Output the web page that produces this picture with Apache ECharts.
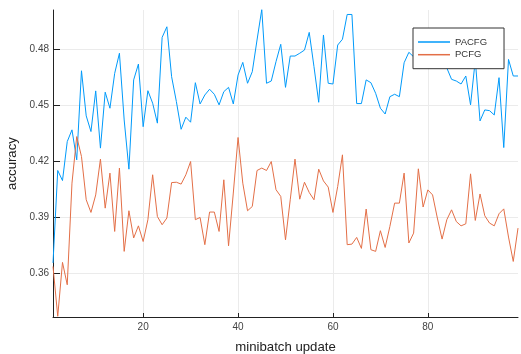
<!DOCTYPE html>
<html><head><meta charset="utf-8">
<script src="https://cdn.jsdelivr.net/npm/echarts@6/dist/echarts.min.js"></script>
<style>html,body{margin:0;padding:0;background:#fff}#c{width:521px;height:354px}</style>
</head><body><div id="c"></div>
<script>
const xValues = Array.from({length: 99}, (_, i) => i + 1);
const pacfg = [0.3654,0.415,0.4096,0.4305,0.4368,0.4207,0.4685,0.4443,0.4359,0.4577,
0.427,0.457,0.4484,0.4671,0.4779,0.4421,0.4157,0.4636,0.4721,0.4385,
0.4578,0.4511,0.4404,0.4864,0.4921,0.4653,0.452,0.4371,0.4436,0.4409,
0.4621,0.4507,0.4555,0.4586,0.4559,0.4502,0.4573,0.4596,0.4507,0.4662,
0.473,0.4618,0.468,0.485,0.5014,0.4618,0.463,0.4734,0.4827,0.4596,
0.4764,0.4764,0.4779,0.4796,0.4891,0.4707,0.4516,0.4877,0.4618,0.4614,
0.4823,0.4854,0.4987,0.4987,0.4509,0.4509,0.4636,0.4621,0.4564,0.4484,
0.4453,0.4546,0.4559,0.4546,0.4728,0.4784,0.476,0.481,0.474,0.478,
0.470,0.476,0.472,0.470,0.4639,0.463,0.4614,0.4657,0.4502,0.4743,
0.4416,0.4475,0.4471,0.4448,0.4648,0.4273,0.4746,0.4657,0.4657];
const pcfg = [0.3635,0.3368,0.3657,0.3537,0.4082,0.4332,0.4225,0.3993,0.3925,0.4019,
0.4211,0.3948,0.4136,0.3823,0.4163,0.3716,0.3934,0.3788,0.3853,0.3769,
0.3886,0.4127,0.3903,0.3859,0.3895,0.4085,0.4087,0.4077,0.4127,0.4198,
0.3886,0.3898,0.3752,0.3927,0.3927,0.3823,0.41,0.3746,0.4029,0.4327,
0.4082,0.3934,0.3957,0.415,0.4163,0.415,0.4198,0.4047,0.4011,0.3778,
0.3993,0.4211,0.3996,0.4087,0.4032,0.3993,0.4157,0.4094,0.4061,0.3925,
0.4064,0.4234,0.3752,0.3755,0.3791,0.3732,0.3943,0.3725,0.3716,0.3827,
0.3737,0.385,0.3975,0.3975,0.4136,0.3761,0.3814,0.4159,0.3954,0.4046,
0.4019,0.3895,0.3782,0.3886,0.3939,0.3876,0.3853,0.3864,0.4132,0.3882,
0.4024,0.3907,0.3868,0.3853,0.3918,0.3944,0.3793,0.3662,0.3841];
const xTicks = [20, 40, 60, 80];
const yTicks = [0.36, 0.39, 0.42, 0.45, 0.48];
const seriesNames = ['PACFG', 'PCFG'];

const FONT = 'Liberation Sans';
const chart = echarts.init(document.getElementById('c'), null, {renderer: 'canvas'});
chart.setOption({
  animation: false,
  backgroundColor: '#fff',
  grid: {left: 53, right: 3, top: 10, bottom: 37, containLabel: false, outerBoundsMode: 'none'},
  legend: {
    orient: 'vertical', left: 413, top: 28,
    padding: [8, 17, 8, 5], itemGap: 0.7,
    itemWidth: 32, itemHeight: 1.5, icon: 'rect',
    backgroundColor: '#fff', borderColor: '#333', borderWidth: 1, borderRadius: 0,
    textStyle: {fontFamily: FONT, fontSize: 9.5, color: '#333', lineHeight: 12},
    data: seriesNames
  },
  xAxis: {
    type: 'value', min: 1, max: 99,
    name: 'minibatch update', nameLocation: 'middle', nameGap: 24,
    nameTextStyle: {fontFamily: FONT, fontSize: 13.2, color: '#222'},
    axisLine: {show: true, lineStyle: {color: '#222', width: 1}},
    axisTick: {show: true, inside: true, length: 4, customValues: xTicks, lineStyle: {color: '#222'}},
    axisLabel: {customValues: xTicks, fontFamily: FONT, fontSize: 10, color: '#444', margin: 5},
    splitLine: {show: true, lineStyle: {color: '#ebebeb', width: 1}}
  },
  yAxis: {
    type: 'value', min: 0.3364, max: 0.5011,
    name: 'accuracy', nameLocation: 'middle', nameGap: 31, nameRotate: 90,
    nameTextStyle: {fontFamily: FONT, fontSize: 13.2, color: '#222'},
    axisLine: {show: true, lineStyle: {color: '#222', width: 1}},
    axisTick: {show: true, inside: true, length: 7, customValues: yTicks, lineStyle: {color: '#222'}},
    axisLabel: {customValues: yTicks, fontFamily: FONT, fontSize: 10, color: '#444', margin: 4,
      formatter: v => v.toFixed(2)},
    splitLine: {show: true, lineStyle: {color: '#ebebeb', width: 1}}
  },
  series: [
    {name: seriesNames[0], type: 'line', data: xValues.map((x, i) => [x, pacfg[i]]),
     showSymbol: false, symbol: 'none', lineStyle: {color: '#009AFA', width: 1}, itemStyle: {color: '#009AFA'}},
    {name: seriesNames[1], type: 'line', data: xValues.map((x, i) => [x, pcfg[i]]),
     showSymbol: false, symbol: 'none', lineStyle: {color: '#E36F47', width: 1}, itemStyle: {color: '#E36F47'}}
  ]
});
</script></body></html>
